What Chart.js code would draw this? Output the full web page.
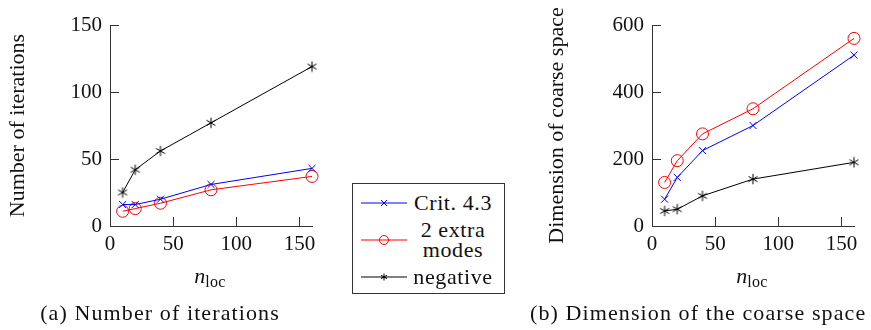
<!DOCTYPE html>
<html>
<head>
<meta charset="utf-8">
<script src="https://cdn.jsdelivr.net/npm/chart.js@4.4.1/dist/chart.umd.min.js"></script>
<style>
  body { margin: 0; background: #fff; width: 871px; height: 330px; position: relative; overflow: hidden;
         font-family: "Liberation Serif", serif; color: #111; }
  .abs { position: absolute; }
  .cap { font-size: 22px; line-height: 24px; letter-spacing: 1.1px; text-align: center; white-space: nowrap; }
  .xt { font-size: 22px; line-height: 24px; text-align: center; white-space: nowrap; }
  .xt sub { font-size: 16px; vertical-align: -4px; line-height: 0; letter-spacing: 0.4px; }
  #legend { left: 352px; top: 183px; width: 153px; height: 111px; border: 1px solid #333; box-sizing: border-box; }
  #legend .row { position: absolute; left: 0; width: 151px; }
  #legend svg { position: absolute; left: 8px; }
  #legend .txt { position: absolute; left: 58px; width: 84px; text-align: center; font-size: 22px; line-height: 20px;
                 letter-spacing: 0.6px; white-space: nowrap; }
</style>
</head>
<body>
<div class="abs" style="left:0;top:0;width:340px;height:266px"><canvas id="c1"></canvas></div>
<div class="abs" style="left:530px;top:0;width:341px;height:266px"><canvas id="c2"></canvas></div>

<div class="abs xt" style="left:160px;top:264px;width:100px"><i>n</i><sub>loc</sub></div>
<div class="abs xt" style="left:702px;top:264px;width:100px"><i>n</i><sub>loc</sub></div>

<div class="abs cap" style="left:10px;top:301px;width:300px">(a) Number of iterations</div>
<div class="abs cap" style="left:530px;top:301px;width:334px">(b) Dimension of the coarse space</div>

<div id="legend" class="abs">
  <div class="row" style="top:8px;height:22px">
    <svg width="46" height="22"><line x1="0" y1="11" x2="46" y2="11" stroke="#0000ff" stroke-width="1"/>
      <path d="M20 8 L26 14 M26 8 L20 14" stroke="#0000ff" stroke-width="1"/></svg>
    <div class="txt" style="top:1px">Crit. 4.3</div>
  </div>
  <div class="row" style="top:34px;height:44px">
    <svg width="46" height="44" style="top:0"><line x1="0" y1="22" x2="46" y2="22" stroke="#ff0000" stroke-width="1"/>
      <circle cx="23" cy="22" r="4.5" fill="none" stroke="#ff0000" stroke-width="1"/></svg>
    <div class="txt" style="top:2px">2 extra<br>modes</div>
  </div>
  <div class="row" style="top:82px;height:22px">
    <svg width="46" height="22"><line x1="0" y1="11" x2="46" y2="11" stroke="#000" stroke-width="1"/>
      <path d="M23 7.5 L23 14.5 M20 9.3 L26 12.7 M26 9.3 L20 12.7" stroke="#000" stroke-width="1"/></svg>
    <div class="txt" style="top:1px">negative</div>
  </div>
</div>

<script>
// x values and tick positions
const nLoc = [10, 20, 40, 80, 160];
const xTicks = [0, 50, 100, 150];

// (a) number of iterations
const itCrit = [16, 16, 20, 31, 43];
const itExtra = [11, 13, 17, 27, 37];
const itNeg = [25, 42, 56, 77, 119];
const itTicks = [0, 50, 100, 150];

// (b) dimension of the coarse space
const dimCrit = [80, 145, 225, 300, 510];
const dimExtra = [130, 195, 275, 350, 560];
const dimNeg = [45, 50, 90, 140, 190];
const dimTicks = [0, 200, 400, 600];

const seriesNames = ['Crit. 4.3', '2 extra modes', 'negative'];

const serif = '"Liberation Serif", serif';
Chart.defaults.font.family = serif;
Chart.defaults.font.size = 21;
Chart.defaults.color = '#111';

// pgfplots style asterisk, three strokes
const star = (() => {
  const c = document.createElement('canvas');
  c.width = 12; c.height = 12;
  const g = c.getContext('2d');
  g.strokeStyle = '#000';
  g.lineWidth = 1;
  g.beginPath();
  for (const a of [90, 30, 150]) {
    const r = a * Math.PI / 180;
    g.moveTo(6 - 5.2 * Math.cos(r), 6 - 5.2 * Math.sin(r));
    g.lineTo(6 + 5.2 * Math.cos(r), 6 + 5.2 * Math.sin(r));
  }
  g.stroke();
  return c;
})();

const inTicks = {
  id: 'inTicks',
  beforeDatasetsDraw(chart) {
    const { ctx, chartArea: a, scales: { x, y } } = chart;
    ctx.save();
    ctx.strokeStyle = '#333';
    ctx.lineWidth = 1;
    ctx.beginPath();
    x.ticks.forEach((t) => {
      const px = Math.round(x.getPixelForValue(t.value)) + 0.5;
      ctx.moveTo(px, a.bottom);
      ctx.lineTo(px, a.bottom - 9);
    });
    y.ticks.forEach((t) => {
      const py = Math.round(y.getPixelForValue(t.value)) + 0.5;
      ctx.moveTo(a.left, py);
      ctx.lineTo(a.left + 9, py);
    });
    ctx.stroke();
    ctx.restore();
  },
};

const pts = (ys) => nLoc.map((x, i) => ({ x, y: ys[i] }));

function makeChart(id, crit, extra, neg, yMax, yTicks, yTitle, yWidth, titlePad, padRight) {
  return new Chart(document.getElementById(id), {
    type: 'scatter',
    data: {
      datasets: [
        { label: seriesNames[0], data: pts(crit), showLine: true, borderColor: '#0000ff', backgroundColor: '#0000ff',
          borderWidth: 1, pointStyle: 'crossRot', pointRadius: 5, pointBorderWidth: 1, clip: false },
        { label: seriesNames[1], data: pts(extra), showLine: true, borderColor: '#ff0000', backgroundColor: 'rgba(0,0,0,0)',
          borderWidth: 1, pointStyle: 'circle', pointRadius: 6, pointBorderWidth: 1, clip: false },
        { label: seriesNames[2], data: pts(neg), showLine: true, borderColor: '#000', backgroundColor: '#000',
          borderWidth: 1, pointStyle: star, pointRadius: 5, clip: false },
      ],
    },
    options: {
      responsive: true,
      maintainAspectRatio: false,
      animation: false,
      layout: { padding: { left: 0, top: 25, right: padRight, bottom: 0 } },
      plugins: { legend: { display: false }, tooltip: { enabled: false } },
      scales: {
        x: {
          type: 'linear', min: 0, max: 160,
          afterBuildTicks: (s) => { s.ticks = xTicks.map((v) => ({ value: v })); },
          afterFit: (s) => { s.height = 40; },
          grid: { display: true, drawOnChartArea: false, drawTicks: false },
          border: { display: true, color: '#333', width: 1 },
          ticks: { padding: 6, maxRotation: 0, font: { family: serif, size: 21 } },
        },
        y: {
          type: 'linear', min: 0, max: yMax,
          afterBuildTicks: (s) => { s.ticks = yTicks.map((v) => ({ value: v })); },
          afterFit: (s) => { s.width = yWidth; },
          grid: { display: true, drawOnChartArea: false, drawTicks: false },
          border: { display: true, color: '#333', width: 1 },
          ticks: { padding: 8, font: { family: serif, size: 21 } },
          title: { display: true, text: yTitle, font: { family: serif, size: 22 }, padding: { top: titlePad, bottom: 0 } },
        },
      },
    },
    plugins: [inTicks],
  });
}

makeChart('c1', itCrit, itExtra, itNeg, 150, itTicks, 'Number of iterations', 110, 5, 28);
makeChart('c2', dimCrit, dimExtra, dimNeg, 600, dimTicks, 'Dimension of coarse space', 122, 14, 17);
</script>
</body>
</html>
